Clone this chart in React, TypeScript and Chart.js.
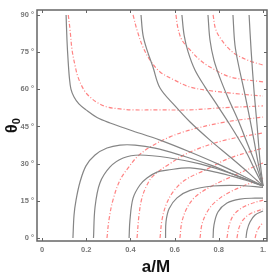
import React, { useEffect, useRef } from "react";
import { Chart, registerables } from "chart.js";

Chart.register(...registerables);

// Axis ticks
const xTicks = [0, 0.2, 0.4, 0.6, 0.8, 1];
const xTickLabels = ["0", "0.2", "0.4", "0.6", "0.8", "1."];
const yTicks = [0, 15, 30, 45, 60, 75, 90];
const yTickLabels = ["0 °", "15 °", "30 °", "45 °", "60 °", "75 °", "90 °"];

// Gray (solid) contours: [a/M, θ0]
const gray1 = [[0.109, 90], [0.113, 79.9], [0.118, 71.8], [0.124, 64.6], [0.131, 60.1], [0.145, 56.9], [0.167, 54.1], [0.199, 51.7], [0.249, 48.6], [0.308, 46.4], [0.398, 43.6], [0.534, 39.5], [0.67, 34.7], [0.805, 29.5], [0.919, 24.6], [1, 21]];
const gray2 = [[0.448, 90], [0.457, 81.9], [0.475, 75.9], [0.502, 69], [0.534, 60.5], [0.602, 53.3], [0.67, 46.8], [0.76, 39.5], [0.851, 32.7], [0.941, 25.8], [1, 21]];
const gray3 = [[0.633, 90], [0.643, 81.9], [0.661, 75.1], [0.692, 67.8], [0.738, 60.9], [0.783, 54.9], [0.851, 45.6], [0.919, 35.5], [0.964, 27.4], [1, 21]];
const gray4 = [[0.751, 90], [0.76, 79.9], [0.778, 71.8], [0.805, 64.6], [0.842, 56.5], [0.887, 47.6], [0.932, 37.5], [0.968, 29.5], [1, 21]];
const gray5 = [[0.864, 90], [0.873, 77.9], [0.891, 69], [0.914, 59.7], [0.937, 49.6], [0.959, 39.5], [0.977, 30.7], [1, 21]];
const gray6 = [[0.937, 90], [0.946, 75.9], [0.959, 59.7], [0.973, 45.6], [0.986, 31.5], [1, 21]];
const grayB1 = [[0.14, 0], [0.145, 9.3], [0.154, 15.3], [0.172, 22.6], [0.199, 29.1], [0.24, 33.5], [0.294, 36.3], [0.353, 37.5], [0.421, 37.5], [0.511, 36.3], [0.624, 33.5], [0.76, 29.5], [0.896, 24.6], [1, 21]];
const grayB2 = [[0.233, 0], [0.24, 12.5], [0.262, 22.2], [0.308, 28.7], [0.367, 32.3], [0.443, 33.5], [0.579, 32.3], [0.715, 29.9], [0.851, 26.2], [1, 21]];
const grayB3 = [[0.394, 0], [0.398, 7.3], [0.412, 16.1], [0.443, 21.4], [0.475, 24.2], [0.52, 26.6], [0.566, 27.4], [0.67, 28.3], [0.805, 26.2], [0.919, 23.4], [1, 21]];
const grayB4 = [[0.559, 0], [0.561, 6.5], [0.575, 11.8], [0.611, 16.2], [0.67, 19.2], [0.774, 21], [0.896, 21.2], [1, 20.4]];
const grayB5 = [[0.774, 0], [0.778, 5.2], [0.796, 10.5], [0.837, 14.1], [0.896, 15.7], [0.964, 16.1], [1, 16.1]];
const grayB6 = [[0.923, 0], [0.928, 3.2], [0.941, 6.5], [0.964, 9.3], [1, 10.9]];

// Red (dash-dot) contours: [a/M, θ0]
const red1 = [[0.119, 90], [0.127, 83.9], [0.136, 75.9], [0.149, 69.8], [0.163, 64.9], [0.19, 59.7], [0.217, 56.9], [0.253, 54.5], [0.294, 52.9], [0.353, 52.1], [0.412, 51.7], [0.534, 51.7], [0.67, 51.7], [0.805, 52.5], [1, 53.3]];
const red2 = [[0.412, 90], [0.43, 83.9], [0.457, 77], [0.489, 71.8], [0.534, 67], [0.602, 63.6], [0.67, 60.9], [0.774, 59.3], [0.896, 58.1], [1, 57.3]];
const red3 = [[0.606, 90], [0.615, 84.7], [0.633, 79.9], [0.67, 75.9], [0.715, 71.8], [0.76, 69], [0.851, 65], [1, 63]];
const red4 = [[0.774, 90], [0.787, 83.9], [0.819, 79.1], [0.851, 75.9], [0.882, 73.8], [0.941, 71.4], [1, 69.8]];
const redB1 = [[0.294, 0], [0.303, 7.3], [0.321, 15.3], [0.353, 23.4], [0.389, 28.2], [0.43, 32.7], [0.489, 36.7], [0.579, 40.8], [0.67, 43.6], [0.828, 46.8], [1, 48.8]];
const redB2 = [[0.43, 0], [0.439, 9.3], [0.452, 16.1], [0.475, 21.4], [0.502, 25], [0.57, 29.5], [0.67, 34.7], [0.828, 39.5], [1, 42.4]];
const redB3 = [[0.534, 0], [0.543, 7.3], [0.561, 13.3], [0.593, 18.6], [0.647, 23.4], [0.738, 27.4], [0.851, 32.3], [1, 36.3]];
const redB4 = [[0.624, 0], [0.633, 6.5], [0.656, 12.1], [0.692, 16.5], [0.76, 20.6], [0.873, 25.4], [1, 30.3]];
const redB5 = [[0.715, 0], [0.724, 5.6], [0.747, 10.5], [0.783, 14.5], [0.851, 18.6], [1, 24.2]];
const redB6 = [[0.837, 0], [0.846, 4.8], [0.864, 8.9], [0.896, 11.7], [0.941, 13.7], [1, 15.3]];
const redB7 = [[0.882, 0], [0.891, 4.0], [0.91, 7.3], [0.941, 9.7], [1, 11.7]];
const redB8 = [[0.964, 0], [0.973, 2.8], [0.986, 4.8], [1, 6.1]];

const grayCurves = [gray1, gray2, gray3, gray4, gray5, gray6, grayB1, grayB2, grayB3, grayB4, grayB5, grayB6];
const redCurves = [red1, red2, red3, red4, redB1, redB2, redB3, redB4, redB5, redB6, redB7, redB8];

const GRAY = "#858585";
const RED = "rgba(255,90,90,0.75)";
const AXIS = "#666666";

const framePlugin = {
  id: "frame",
  afterDraw(chart: any) {
    const { ctx, chartArea, scales } = chart;
    const { left, right, top, bottom } = chartArea;
    const x = scales.x;
    const y = scales.y;
    ctx.save();
    ctx.strokeStyle = AXIS;
    ctx.lineWidth = 1.5;
    ctx.strokeRect(left, top, right - left, bottom - top);
    ctx.lineWidth = 1;
    ctx.beginPath();
    xTicks.forEach((v) => {
      const px = Math.round(x.getPixelForValue(v)) + 0.5;
      ctx.moveTo(px, bottom);
      ctx.lineTo(px, bottom - 3);
      ctx.moveTo(px, top);
      ctx.lineTo(px, top + 3);
    });
    yTicks.forEach((v) => {
      const py = Math.round(y.getPixelForValue(v)) + 0.5;
      ctx.moveTo(left, py);
      ctx.lineTo(left + 3, py);
      ctx.moveTo(right, py);
      ctx.lineTo(right - 3, py);
    });
    ctx.stroke();

    // axis titles
    ctx.fillStyle = "#111";
    ctx.font = 'bold 17px "Liberation Sans", Arial, sans-serif';
    ctx.textAlign = "center";
    ctx.textBaseline = "alphabetic";
    ctx.fillText("a/M", 156, 272);

    ctx.translate(17, 133);
    ctx.rotate(-Math.PI / 2);
    ctx.textAlign = "left";
    ctx.font = 'bold 16px "Liberation Sans", Arial, sans-serif';
    ctx.fillText("θ", 0, 0);
    const w = ctx.measureText("θ").width;
    ctx.font = 'bold 11px "Liberation Sans", Arial, sans-serif';
    ctx.fillText("0", w, 3);
    ctx.restore();
  },
};

export default function App() {
  const ref = useRef<HTMLCanvasElement | null>(null);
  useEffect(() => {
    if (!ref.current) return;
    const datasets: any[] = [];
    grayCurves.forEach((c) =>
      datasets.push({
        data: c.map(([a, t]) => ({ x: a, y: t })),
        borderColor: GRAY,
        borderWidth: 1.2,
        showLine: true,
        pointRadius: 0,
        tension: 0.35,
        fill: false,
      })
    );
    redCurves.forEach((c) =>
      datasets.push({
        data: c.map(([a, t]) => ({ x: a, y: t })),
        borderColor: RED,
        borderWidth: 1.2,
        borderDash: [4, 2, 1, 2],
        showLine: true,
        pointRadius: 0,
        tension: 0.35,
        fill: false,
      })
    );
    const tickFont = { family: '"Liberation Sans", Arial, sans-serif', size: 7.5, weight: "bold" as const };
    const chart = new Chart(ref.current, {
      type: "scatter",
      data: { datasets },
      options: {
        animation: false,
        responsive: false,
        devicePixelRatio: 1,
        layout: { padding: { top: 10, right: 6, left: 0, bottom: 0 } },
        plugins: { legend: { display: false }, tooltip: { enabled: false } },
        scales: {
          x: {
            type: "linear",
            min: -0.0226,
            max: 1.018,
            grid: { display: false, drawTicks: false },
            border: { display: false },
            afterBuildTicks: (s: any) => {
              s.ticks = xTicks.map((v) => ({ value: v }));
            },
            afterFit: (s: any) => {
              s.height = 34;
            },
            ticks: {
              padding: 4,
              color: "#777",
              font: tickFont,
              maxRotation: 0,
              autoSkip: false,
              callback: (v: any) => {
                const i = xTicks.indexOf(Number(v));
                return i >= 0 ? xTickLabels[i] : "";
              },
            },
          },
          y: {
            type: "linear",
            min: -1.2,
            max: 92,
            grid: { display: false, drawTicks: false },
            border: { display: false },
            afterBuildTicks: (s: any) => {
              s.ticks = yTicks.map((v) => ({ value: v }));
            },
            afterFit: (s: any) => {
              s.width = 37;
            },
            ticks: {
              padding: 3,
              color: "#777",
              font: tickFont,
              autoSkip: false,
              callback: (v: any) => {
                const i = yTicks.indexOf(Number(v));
                return i >= 0 ? yTickLabels[i] : "";
              },
            },
          },
        },
      },
      plugins: [framePlugin],
    });
    return () => chart.destroy();
  }, []);
  return (
    <div style={{ position: "absolute", left: 0, top: 0, width: 273, height: 275, background: "#fff" }}>
      <canvas ref={ref} width={273} height={275} style={{ width: 273, height: 275 }} />
    </div>
  );
}
